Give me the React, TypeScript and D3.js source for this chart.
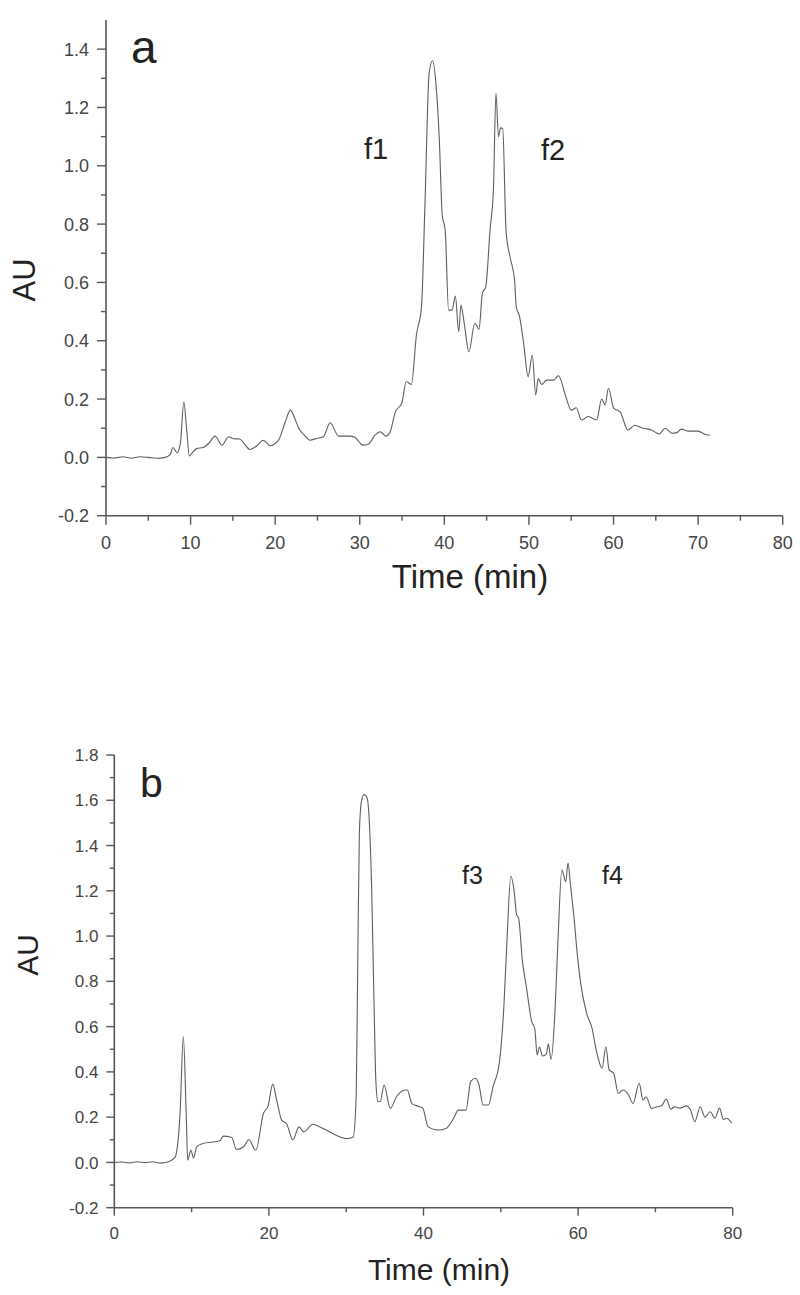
import React from "react";
import * as d3 from "d3";

// ---- Panel a data (time in min, absorbance AU) ----
const timeA: number[] = [0,1,2,3,4,5,6,7,7.6,7.9,8.4,8.8,9.2,9.55,9.85,10.3,10.7,11.5,12.2,12.9,13.7,14.5,15.1,15.8,16.4,17.0,17.8,18.6,19.4,20.4,21.2,21.8,22.3,22.8,23.5,24.1,24.9,25.7,26.5,27.5,28.8,29.4,30.4,31.0,31.8,32.4,33.1,33.6,34.2,34.97,35.5,36.1,36.7,37.3,37.7,38.2,38.6,39.0,39.4,39.75,40.1,40.5,40.9,41.3,41.7,41.96,42.35,42.9,43.6,44.1,44.5,44.9,45.4,45.8,46.1,46.4,46.65,46.9,47.3,47.8,48.3,48.5,48.9,49.4,49.9,50.4,50.8,51.1,51.5,52.1,52.9,53.5,54.3,55.0,55.6,56.2,57.0,58.0,58.6,59.0,59.4,60.0,60.8,61.7,62.5,63.5,64.5,65.4,66.1,66.9,67.5,68.0,68.8,70.0,70.8,71.4];
const auA: number[] = [0,-0.002,0.002,-0.003,0.002,0,-0.003,0.0,0.01,0.034,0.016,0.05,0.19,0.09,0.005,0.02,0.03,0.034,0.05,0.073,0.042,0.071,0.064,0.063,0.045,0.027,0.039,0.059,0.04,0.059,0.122,0.162,0.135,0.099,0.075,0.059,0.065,0.071,0.119,0.073,0.073,0.069,0.042,0.045,0.076,0.088,0.073,0.088,0.155,0.186,0.26,0.25,0.42,0.517,0.86,1.317,1.36,1.283,1.094,0.831,0.78,0.505,0.505,0.553,0.431,0.522,0.46,0.362,0.46,0.44,0.563,0.585,0.78,0.917,1.249,1.1,1.13,1.128,0.774,0.683,0.608,0.517,0.482,0.385,0.277,0.351,0.214,0.27,0.25,0.265,0.265,0.28,0.214,0.162,0.17,0.128,0.14,0.128,0.2,0.18,0.237,0.17,0.155,0.094,0.11,0.1,0.094,0.08,0.1,0.083,0.085,0.097,0.09,0.09,0.079,0.076];

// ---- Panel b data ----
const timeB: number[] = [0,1,2,3,4,5,6,7,7.85,8.5,8.93,9.3,9.5,9.9,10.25,10.66,11.5,12.8,13.7,14.1,15.2,15.8,16.7,17.4,18.3,19.3,19.9,20.5,21.0,21.65,22.3,23.1,23.9,24.5,25.7,26.6,27.5,28.3,29.2,30.1,30.9,31.3,31.5,31.7,31.95,32.3,32.7,33.0,33.3,33.6,33.85,34.1,34.4,34.9,35.7,36.5,37.6,37.9,38.5,39.5,39.9,40.6,41.9,42.9,43.9,44.5,45.5,46.1,46.7,47.2,47.7,48.4,49.0,49.8,50.4,50.8,51.3,51.7,52.05,52.3,52.8,53.3,54.0,54.4,54.7,55.0,55.4,55.9,56.15,56.5,57.0,57.4,57.9,58.2,58.4,58.7,59.0,59.5,59.9,60.3,61.1,61.8,62.3,62.6,63.1,63.6,64.0,64.6,65.2,65.8,66.5,67.1,67.9,68.4,68.8,69.5,70.2,70.8,71.4,72.0,72.5,73.2,74.0,74.5,75.1,75.8,76.4,77.1,77.7,78.3,78.8,79.2,79.9];
const auB: number[] = [0,0.002,-0.002,0.003,-0.001,0.003,-0.003,0.003,0.022,0.21,0.556,0.217,0.01,0.054,0.02,0.069,0.084,0.09,0.097,0.116,0.11,0.057,0.068,0.1,0.054,0.217,0.25,0.346,0.276,0.187,0.17,0.1,0.157,0.135,0.169,0.157,0.142,0.127,0.112,0.105,0.112,0.3,0.9,1.45,1.59,1.625,1.61,1.5,1.2,0.7,0.35,0.27,0.268,0.342,0.239,0.29,0.32,0.32,0.26,0.246,0.24,0.157,0.143,0.15,0.195,0.231,0.231,0.357,0.372,0.34,0.254,0.254,0.335,0.438,0.69,0.984,1.264,1.205,1.094,1.08,0.888,0.777,0.622,0.59,0.475,0.51,0.47,0.48,0.523,0.455,0.659,0.984,1.293,1.26,1.24,1.323,1.23,1.072,0.917,0.8,0.659,0.593,0.504,0.46,0.416,0.511,0.41,0.394,0.305,0.32,0.3,0.261,0.35,0.275,0.29,0.239,0.246,0.25,0.28,0.235,0.246,0.24,0.25,0.235,0.18,0.246,0.2,0.224,0.195,0.24,0.19,0.195,0.173];

// ---- Ticks ----
const xMajorA = [0, 10, 20, 30, 40, 50, 60, 70, 80];
const xMinorA = [5, 15, 25, 35, 45, 55, 65, 75];
const yMajorA = [-0.2, 0.0, 0.2, 0.4, 0.6, 0.8, 1.0, 1.2, 1.4];
const yMinorA = [-0.1, 0.1, 0.3, 0.5, 0.7, 0.9, 1.1, 1.3];
const xMajorB = [0, 20, 40, 60, 80];
const xMinorB = [10, 30, 50, 70];
const yMajorB = [-0.2, 0.0, 0.2, 0.4, 0.6, 0.8, 1.0, 1.2, 1.4, 1.6, 1.8];
const yMinorB = [-0.1, 0.1, 0.3, 0.5, 0.7, 0.9, 1.1, 1.3, 1.5, 1.7];

const FONT = "'Liberation Sans', Arial, Helvetica, sans-serif";
const AXIS = "#555";
const TXT = "#444";

type PanelProps = {
  times: number[]; values: number[];
  x0: number; x1: number; y0: number; y1: number;
  xDomain: [number, number]; yDomain: [number, number];
  xMajor: number[]; xMinor: number[]; yMajor: number[]; yMinor: number[];
  tickFont: number; majLen: number; minLen: number;
  yLabelX: number; xLabelY: number;
};

function Panel(p: PanelProps) {
  const x = d3.scaleLinear().domain(p.xDomain).range([p.x0, p.x1]);
  const y = d3.scaleLinear().domain(p.yDomain).range([p.y0, p.y1]);
  const data = p.times.map((t, i) => [t, p.values[i]] as [number, number]);
  const line = d3.line<[number, number]>()
    .x(d => x(d[0])).y(d => y(d[1])).curve(d3.curveMonotoneX);
  const baseY = y(p.yDomain[0]);
  const axX = x(p.xDomain[0]);
  return (
    <g>
      <path d={line(data) || ""} fill="none" stroke="#5e5e5e" strokeWidth={1.1} strokeLinejoin="round" />
      {/* y axis */}
      <line x1={axX} x2={axX} y1={y(p.yDomain[1])} y2={baseY} stroke={AXIS} strokeWidth={1.6} />
      {p.yMajor.map(v => (
        <g key={"ym" + v}>
          <line x1={axX - p.majLen} x2={axX} y1={y(v)} y2={y(v)} stroke={AXIS} strokeWidth={1.4} />
          <text x={p.yLabelX} y={y(v)} dy="0.36em" textAnchor="end" fontSize={p.tickFont} fill={TXT} fontFamily={FONT}>{v.toFixed(1)}</text>
        </g>
      ))}
      {p.yMinor.map(v => (
        <line key={"yn" + v} x1={axX - p.minLen} x2={axX} y1={y(v)} y2={y(v)} stroke={AXIS} strokeWidth={1.4} />
      ))}
      {/* x axis */}
      <line x1={axX} x2={x(p.xDomain[1])} y1={baseY} y2={baseY} stroke={AXIS} strokeWidth={1.6} />
      {p.xMajor.map(v => (
        <g key={"xm" + v}>
          <line x1={x(v)} x2={x(v)} y1={baseY} y2={baseY + p.majLen} stroke={AXIS} strokeWidth={1.4} />
          <text x={x(v)} y={p.xLabelY} textAnchor="middle" fontSize={p.tickFont} fill={TXT} fontFamily={FONT}>{v}</text>
        </g>
      ))}
      {p.xMinor.map(v => (
        <line key={"xn" + v} x1={x(v)} x2={x(v)} y1={baseY} y2={baseY + p.minLen} stroke={AXIS} strokeWidth={1.4} />
      ))}
    </g>
  );
}

export default function App() {
  return (
    <svg width={800} height={1295} viewBox="0 0 800 1295"
      style={{ position: "absolute", left: 0, top: 0, background: "#fff" }}>
      <rect x={0} y={0} width={800} height={1295} fill="#fff" />
      <Panel times={timeA} values={auA}
        x0={106} x1={782.7} y0={515.7} y1={20}
        xDomain={[0, 80]} yDomain={[-0.2, 1.5]}
        xMajor={xMajorA} xMinor={xMinorA} yMajor={yMajorA} yMinor={yMinorA}
        tickFont={18} majLen={9} minLen={5} yLabelX={89} xLabelY={549} />
      <text x={131} y={63} fontSize={46} fontFamily={FONT} fill="#222">a</text>
      <text x={364} y={159} fontSize={29} fontFamily={FONT} fill="#222">f1</text>
      <text x={541} y={160} fontSize={29} fontFamily={FONT} fill="#222">f2</text>
      <text x={470} y={588} textAnchor="middle" fontSize={33} fontFamily={FONT} fill="#222">Time (min)</text>
      <text transform="translate(35,280) rotate(-90)" textAnchor="middle" fontSize={31} fontFamily={FONT} fill="#222">AU</text>

      <Panel times={timeB} values={auB}
        x0={114.3} x1={732.7} y0={1207.7} y1={755}
        xDomain={[0, 80]} yDomain={[-0.2, 1.8]}
        xMajor={xMajorB} xMinor={xMinorB} yMajor={yMajorB} yMinor={yMinorB}
        tickFont={17} majLen={8} minLen={4.5} yLabelX={98.5} xLabelY={1239} />
      <text x={140} y={797} fontSize={41} fontFamily={FONT} fill="#222">b</text>
      <text x={462} y={884} fontSize={25} fontFamily={FONT} fill="#222">f3</text>
      <text x={602} y={884} fontSize={25} fontFamily={FONT} fill="#222">f4</text>
      <text x={439} y={1280} textAnchor="middle" fontSize={30} fontFamily={FONT} fill="#222">Time (min)</text>
      <text transform="translate(38,955) rotate(-90)" textAnchor="middle" fontSize={30} fontFamily={FONT} fill="#222">AU</text>
    </svg>
  );
}
